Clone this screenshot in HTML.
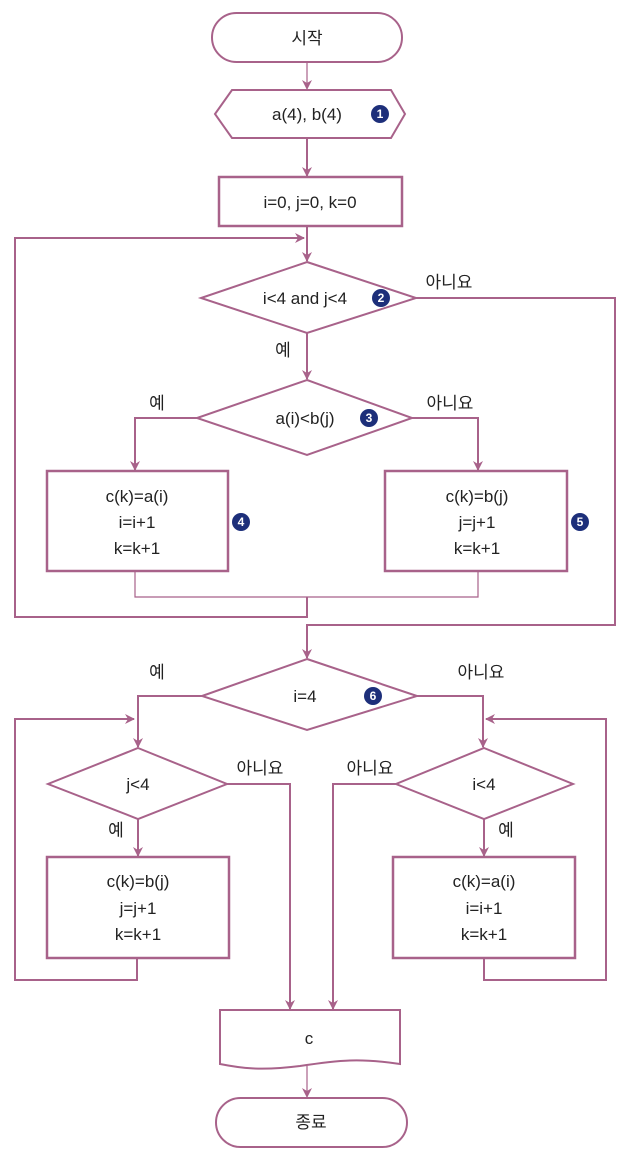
<!DOCTYPE html>
<html><head><meta charset="utf-8"><style>
html,body{margin:0;padding:0;background:#fff;}
svg{display:block;}
text{font-family:"Liberation Sans","Noto Sans CJK KR",sans-serif;font-size:17px;fill:#222;}
.b{fill:#1d2f7a;}
.bt{fill:#fff;font-size:12px;font-weight:bold;}
</style></head><body>
<svg width="626" height="1157" viewBox="0 0 626 1157" xmlns="http://www.w3.org/2000/svg">
<defs><marker id="a" viewBox="0 0 10 10" refX="9" refY="5" markerWidth="10" markerHeight="10" markerUnits="userSpaceOnUse" orient="auto"><path d="M0,0 L10,5 L0,10 L3,5z" fill="#a8628a"/></marker></defs>
<g fill="none" stroke="#a8628a" stroke-width="2">
<rect x="212" y="13" width="190" height="49" rx="24.5" fill="#fff"/>
<line x1="307" y1="62" x2="307" y2="89" stroke-width="1.2" marker-end="url(#a)"/>
<polygon points="215,114 232,90 391,90 405,114 391,138 232,138" fill="#fff"/>
<line x1="307" y1="138" x2="307" y2="176" marker-end="url(#a)"/>
<rect x="219" y="177" width="183" height="49" fill="#fff" stroke-width="2.5"/>
<line x1="307" y1="226" x2="307" y2="261" marker-end="url(#a)"/>
<polyline points="307,597 307,617 15,617 15,238 304,238" marker-end="url(#a)"/>
<polygon points="307,262 416,298 307,333 201,298" fill="#fff"/>
<polyline points="416,298 615,298 615,625 307,625 307,658" marker-end="url(#a)"/>
<line x1="307" y1="333" x2="307" y2="379" marker-end="url(#a)"/>
<polygon points="307,380 412,418 307,455 197,418" fill="#fff"/>
<polyline points="197,418 135,418 135,470" marker-end="url(#a)"/>
<polyline points="412,418 478,418 478,470" marker-end="url(#a)"/>
<rect x="47" y="471" width="181" height="100" stroke-width="2.5"/>
<rect x="385" y="471" width="182" height="100" stroke-width="2.5"/>
<polyline points="135,571 135,597 478,597 478,571" stroke-width="1.2"/>
<polygon points="307,659 417,696 307,730 202,696" fill="#fff"/>
<polyline points="202,696 138,696 138,747" marker-end="url(#a)"/>
<polyline points="137,958 137,980 15,980 15,719 134,719" marker-end="url(#a)"/>
<polygon points="138,748 227,784 138,819 48,784" fill="#fff"/>
<polyline points="227,784 290,784 290,1009" marker-end="url(#a)"/>
<line x1="138" y1="819" x2="138" y2="856" marker-end="url(#a)"/>
<rect x="47" y="857" width="182" height="101" stroke-width="2.5"/>
<polyline points="417,696 483,696 483,747" marker-end="url(#a)"/>
<polyline points="484,958 484,980 606,980 606,719 486,719" marker-end="url(#a)"/>
<polygon points="484,748 573,784 484,819 396,784" fill="#fff"/>
<polyline points="396,784 333,784 333,1009" marker-end="url(#a)"/>
<line x1="484" y1="819" x2="484" y2="856" marker-end="url(#a)"/>
<rect x="393" y="857" width="182" height="101" stroke-width="2.5"/>
<path d="M220,1010 L400,1010 L400,1064 C360,1058 340,1060 300,1066 C260,1071 240,1068 220,1064 Z" fill="#fff"/>
<line x1="307" y1="1066" x2="307" y2="1097" stroke-width="1.2" marker-end="url(#a)"/>
<rect x="216" y="1098" width="191" height="49" rx="24.5" fill="#fff"/>
</g>
<g text-anchor="middle">
<text x="307" y="44">시작</text>
<text x="307" y="120">a(4), b(4)</text>
<text x="310" y="208">i=0, j=0, k=0</text>
<text x="305" y="304">i&lt;4 and j&lt;4</text>
<text x="449" y="288">아니요</text>
<text x="283" y="356">예</text>
<text x="305" y="424">a(i)&lt;b(j)</text>
<text x="157" y="409">예</text>
<text x="450" y="409">아니요</text>
<text x="137" y="502">c(k)=a(i)</text>
<text x="137" y="528">i=i+1</text>
<text x="137" y="554">k=k+1</text>
<text x="477" y="502">c(k)=b(j)</text>
<text x="477" y="528">j=j+1</text>
<text x="477" y="554">k=k+1</text>
<text x="305" y="702">i=4</text>
<text x="157" y="678">예</text>
<text x="481" y="678">아니요</text>
<text x="138" y="790">j&lt;4</text>
<text x="260" y="774">아니요</text>
<text x="116" y="836">예</text>
<text x="138" y="887">c(k)=b(j)</text>
<text x="138" y="914">j=j+1</text>
<text x="138" y="940">k=k+1</text>
<text x="484" y="790">i&lt;4</text>
<text x="370" y="774">아니요</text>
<text x="506" y="836">예</text>
<text x="484" y="887">c(k)=a(i)</text>
<text x="484" y="914">i=i+1</text>
<text x="484" y="940">k=k+1</text>
<text x="309" y="1044">c</text>
<text x="311" y="1128">종료</text>
</g>
<g text-anchor="middle">
<circle class="b" cx="380" cy="114" r="9"/><text class="bt" x="380" y="118">1</text>
<circle class="b" cx="381" cy="298" r="9"/><text class="bt" x="381" y="302">2</text>
<circle class="b" cx="369" cy="418" r="9"/><text class="bt" x="369" y="422">3</text>
<circle class="b" cx="241" cy="522" r="9"/><text class="bt" x="241" y="526">4</text>
<circle class="b" cx="580" cy="522" r="9"/><text class="bt" x="580" y="526">5</text>
<circle class="b" cx="373" cy="696" r="9"/><text class="bt" x="373" y="700">6</text>
</g>
</svg>
</body></html>
